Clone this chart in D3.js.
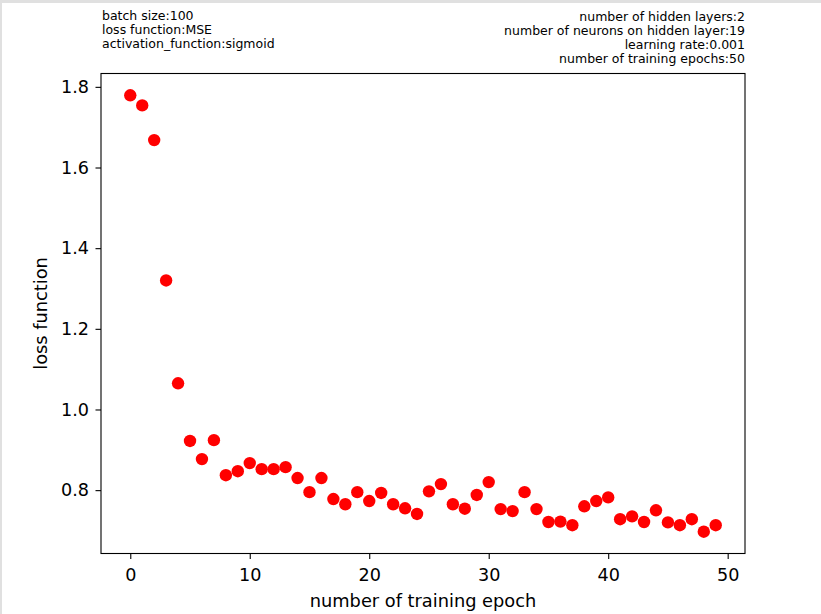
<!DOCTYPE html>
<html>
<head>
<meta charset="utf-8">
<script src="https://cdn.jsdelivr.net/npm/d3@7"></script>
<style>
  html, body { margin: 0; padding: 0; background: #fff; }
  svg { display: block; font-family: "DejaVu Sans", sans-serif; }
</style>
</head>
<body>
<div id="chart"></div>
<script>
// loss per training epoch
const epochs = d3.range(0, 50);
const losses = [
  1.779, 1.754, 1.668, 1.320, 1.065, 0.922, 0.877, 0.924, 0.837, 0.847,
  0.867, 0.852, 0.852, 0.857, 0.830, 0.795, 0.830, 0.778, 0.765, 0.795,
  0.773, 0.793, 0.765, 0.755, 0.741, 0.797, 0.815, 0.765, 0.754, 0.788,
  0.820, 0.753, 0.748, 0.795, 0.753, 0.721, 0.722, 0.713, 0.760, 0.773,
  0.782, 0.728, 0.735, 0.721, 0.750, 0.720, 0.713, 0.728, 0.697, 0.713
];
const xTicks = [0, 10, 20, 30, 40, 50];
const yTicks = [0.8, 1.0, 1.2, 1.4, 1.6, 1.8];
const leftNotes = ['batch size:100', 'loss function:MSE', 'activation_function:sigmoid'];
const rightNotes = [
  'number of hidden layers:2',
  'number of neurons on hidden layer:19',
  'learning rate:0.001',
  'number of training epochs:50'
];

const width = 821;
const height = 614;
const area = { left: 101, right: 745, top: 73.5, bottom: 553.5 };

const svg = d3.select('#chart')
  .append('svg')
  .attr('width', width)
  .attr('height', height);

// notebook frame edges
svg.append('rect').attr('x', 0).attr('y', 0).attr('width', width).attr('height', 3).attr('fill', '#e0e0e0');
svg.append('rect').attr('x', 0).attr('y', 0).attr('width', 2).attr('height', height).attr('fill', '#e0e0e0');

// matplotlib-like 5% margins
const xPad = (d3.max(epochs) - d3.min(epochs)) * 0.05;
const [yMin, yMax] = d3.extent(losses);
const yPad = (yMax - yMin) * 0.05;

const xScale = d3.scaleLinear()
  .domain([d3.min(epochs) - xPad, d3.max(epochs) + xPad])
  .range([area.left, area.right]);
const yScale = d3.scaleLinear()
  .domain([yMin - yPad, yMax + yPad])
  .range([area.bottom, area.top]);

const xAxis = d3.axisBottom(xScale).tickValues(xTicks).tickSize(5.5).tickPadding(10).tickFormat(d3.format('d'));
const yAxis = d3.axisLeft(yScale).tickValues(yTicks).tickSize(5.5).tickPadding(6.5).tickFormat(d3.format('.1f'));

const gx = svg.append('g')
  .attr('transform', `translate(0, ${area.bottom})`)
  .call(xAxis);
const gy = svg.append('g')
  .attr('transform', `translate(${area.left}, 0)`)
  .call(yAxis);

[gx, gy].forEach((g) => {
  g.select('.domain').remove();
  g.selectAll('line').attr('stroke', '#000').attr('stroke-width', 1.1);
  g.selectAll('text').attr('fill', '#000').style('font-size', '17.6px').style('font-family', '"DejaVu Sans", sans-serif');
});

// points
svg.append('g')
  .selectAll('circle')
  .data(epochs)
  .join('circle')
  .attr('cx', (d) => xScale(d))
  .attr('cy', (d, i) => yScale(losses[i]))
  .attr('r', 6.2)
  .attr('fill', '#ff0000');

// spines
svg.append('rect')
  .attr('x', area.left)
  .attr('y', area.top)
  .attr('width', area.right - area.left)
  .attr('height', area.bottom - area.top)
  .attr('fill', 'none')
  .attr('stroke', '#000')
  .attr('stroke-width', 1.1);

// axis labels
svg.append('text')
  .attr('x', (area.left + area.right) / 2)
  .attr('y', 607)
  .attr('text-anchor', 'middle')
  .style('font-size', '17.8px')
  .text('number of training epoch');

svg.append('text')
  .attr('transform', `translate(47, ${(area.top + area.bottom) / 2}) rotate(-90)`)
  .attr('text-anchor', 'middle')
  .style('font-size', '17.8px')
  .text('loss function');

// parameter notes
svg.append('g')
  .selectAll('text')
  .data(leftNotes)
  .join('text')
  .attr('x', 102)
  .attr('y', (d, i) => 20 + i * 14.2)
  .style('font-size', '12.5px')
  .text((d) => d);

svg.append('g')
  .selectAll('text')
  .data(rightNotes)
  .join('text')
  .attr('x', 745)
  .attr('y', (d, i) => 20.5 + i * 14.2)
  .attr('text-anchor', 'end')
  .style('font-size', '12.5px')
  .text((d) => d);
</script>
</body>
</html>
